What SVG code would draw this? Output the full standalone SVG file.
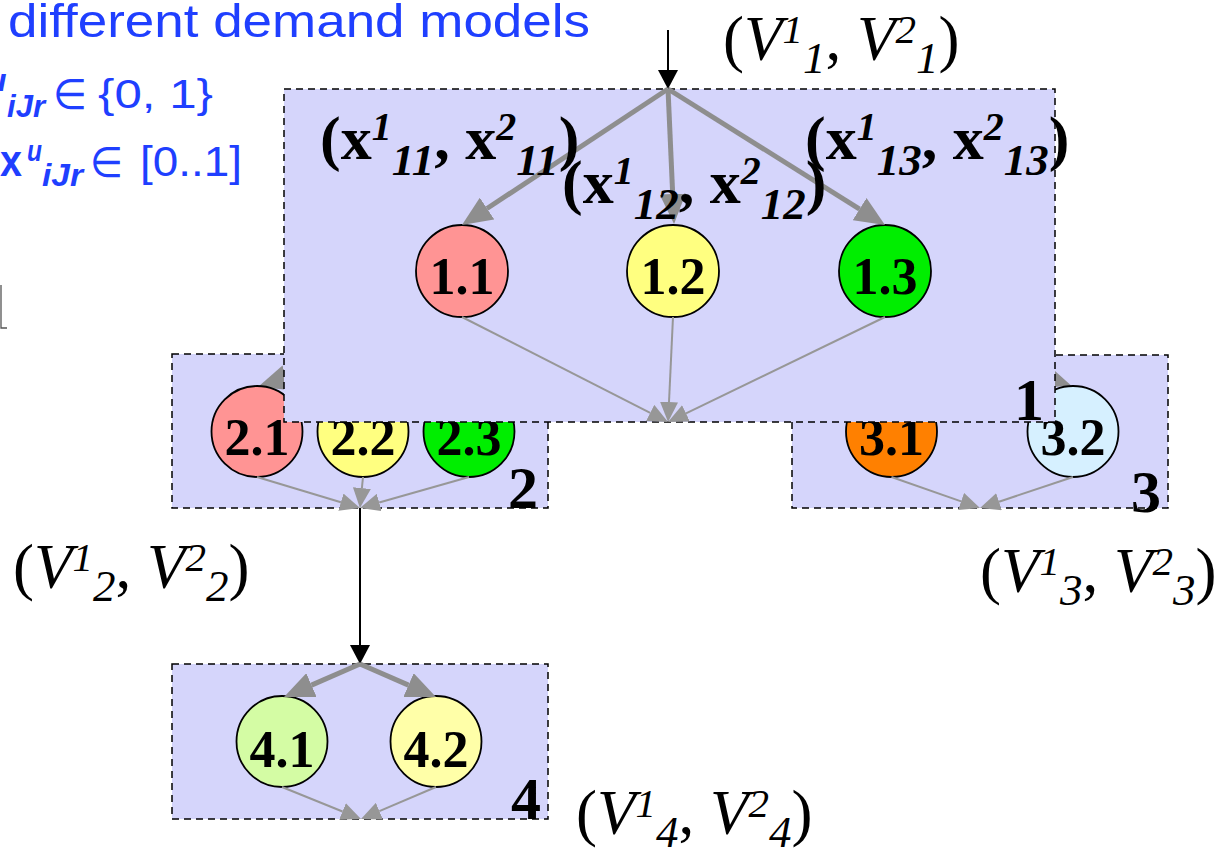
<svg xmlns="http://www.w3.org/2000/svg" width="1223" height="853" viewBox="0 0 1223 853">
<style>
.box{fill:#d5d5fb;stroke:#000;stroke-width:1.5;stroke-dasharray:7,5}
.nd{stroke:#000;stroke-width:1.8}
.thick{stroke:#8e8e8e;stroke-width:5;fill:none}
.thin{stroke:#979797;stroke-width:2;fill:none}
.blk{stroke:#000;stroke-width:2;fill:none}
.nl{font-family:"Liberation Serif","Times New Roman",serif;font-weight:bold;font-size:52px;text-anchor:middle;fill:#000}
.bl{font-family:"Liberation Serif","Times New Roman",serif;font-weight:bold;font-size:60px;fill:#000}
.xl{font-family:"Liberation Serif","Times New Roman",serif;font-weight:bold;font-size:62px;fill:#000}
.xl .s{font-style:italic;font-size:40px}
.xl .b{font-style:italic;font-size:45px}
.vl{font-family:"Liberation Serif","Times New Roman",serif;font-size:63px;fill:#000}
.vl .i{font-style:italic}
.vl .s{font-style:italic;font-size:41px}
.vl .b{font-style:italic;font-size:45px}
.blue{font-family:"Liberation Sans",Arial,sans-serif;fill:#1f3fff}
.sym{font-family:"DejaVu Sans",sans-serif;fill:#1f3fff}
</style>
<defs>
<marker id="mThick" markerUnits="userSpaceOnUse" markerWidth="32" markerHeight="26" refX="0" refY="13" orient="auto"><path d="M0,0 L30,13 L0,26 z" fill="#8e8e8e"/></marker>
<marker id="mThin" markerUnits="userSpaceOnUse" markerWidth="22" markerHeight="18" refX="0" refY="9" orient="auto"><path d="M0,0 L20,9 L0,18 z" fill="#979797"/></marker>
<marker id="mBlk" markerUnits="userSpaceOnUse" markerWidth="20" markerHeight="20" refX="0" refY="10" orient="auto"><path d="M0,0 L19,10 L0,20 z" fill="#000"/></marker>
</defs>
<rect width="1223" height="853" fill="#fff"/>

<g id="legend">
<text class="blue" x="8" y="37" font-size="47" textLength="582" lengthAdjust="spacingAndGlyphs">different demand models</text>
<text class="blue" x="-13" y="91" font-size="32" font-weight="bold" font-style="italic">u</text>
<text class="blue" x="7" y="117" font-size="32" font-weight="bold" font-style="italic" textLength="38" lengthAdjust="spacingAndGlyphs">iJr</text>
<text class="sym" x="53" y="109" font-size="42" textLength="34" lengthAdjust="spacingAndGlyphs">∈</text>
<text class="blue" x="98" y="108" font-size="40" textLength="115" lengthAdjust="spacingAndGlyphs">{0, 1}</text>
<text class="blue" x="0" y="176" font-size="44" font-weight="bold" textLength="22" lengthAdjust="spacingAndGlyphs">x</text>
<text class="blue" x="27" y="161" font-size="30" font-weight="bold" font-style="italic" textLength="15" lengthAdjust="spacingAndGlyphs">u</text>
<text class="blue" x="42" y="186" font-size="32" font-weight="bold" font-style="italic" textLength="41" lengthAdjust="spacingAndGlyphs">iJr</text>
<text class="sym" x="90" y="177" font-size="42" textLength="33" lengthAdjust="spacingAndGlyphs">∈</text>
<text class="blue" x="140" y="176" font-size="42" textLength="102" lengthAdjust="spacingAndGlyphs">[0..1]</text>
<polyline points="1,285 1,328 7,328" fill="none" stroke="#555" stroke-width="1.3"/>
</g>

<g id="box2">
<rect class="box" x="172" y="354" width="376" height="154"/>
<line class="thick" x1="360" y1="354" x2="286.5" y2="377.8" marker-end="url(#mThick)"/>
<circle class="nd" cx="257" cy="431.5" r="45.5" fill="#ff9494"/>
<circle class="nd" cx="363" cy="431.5" r="45.5" fill="#ffff80"/>
<circle class="nd" cx="469" cy="431.5" r="45.5" fill="#00ee00"/>
<text class="nl" x="257" y="455">2.1</text>
<text class="nl" x="363" y="455">2.2</text>
<text class="nl" x="469" y="455">2.3</text>
<text class="bl" x="508" y="508">2</text>
</g>

<g id="box3">
<rect class="box" x="792" y="355" width="376" height="153"/>
<line class="thick" x1="980" y1="355" x2="1042.7" y2="376" marker-end="url(#mThick)"/>
<circle class="nd" cx="891.5" cy="431.5" r="45.5" fill="#ff8000"/>
<circle class="nd" cx="1073" cy="431.5" r="45.5" fill="#d6f0ff"/>
<text class="nl" x="891.5" y="455">3.1</text>
<text class="nl" x="1073" y="455">3.2</text>
<text class="bl" x="1131" y="512">3</text>
</g>

<g id="box1">
<rect class="box" x="284" y="89" width="771" height="333"/>
<circle class="nd" cx="462" cy="271" r="46" fill="#ff9494"/>
<circle class="nd" cx="673" cy="271" r="46" fill="#ffff80"/>
<circle class="nd" cx="885" cy="271" r="46" fill="#00ee00"/>
<text class="nl" x="462" y="294">1.1</text>
<text class="nl" x="673" y="294">1.2</text>
<text class="nl" x="885" y="294">1.3</text>
<text class="bl" x="1014" y="420">1</text>
</g>

<g id="box4">
<rect class="box" x="172" y="664" width="376" height="155"/>
<circle class="nd" cx="282" cy="741.5" r="45.5" fill="#d4fca4"/>
<circle class="nd" cx="436" cy="741.5" r="45.5" fill="#ffffa8"/>
<text class="nl" x="282" y="767">4.1</text>
<text class="nl" x="436" y="767">4.2</text>
<text class="bl" x="511" y="819">4</text>
</g>

<g id="connectors">
<line class="blk" x1="668" y1="30" x2="668" y2="70" marker-end="url(#mBlk)"/>
<line class="thick" x1="668" y1="89" x2="487" y2="208.5" marker-end="url(#mThick)"/>
<line class="thick" x1="668" y1="89" x2="672.7" y2="194" marker-end="url(#mThick)"/>
<line class="thick" x1="668" y1="89" x2="859.6" y2="209.1" marker-end="url(#mThick)"/>
<line class="thin" x1="462" y1="317" x2="650.2" y2="412.9" marker-end="url(#mThin)"/>
<line class="thin" x1="673" y1="317" x2="669" y2="402" marker-end="url(#mThin)"/>
<line class="thin" x1="885" y1="317" x2="686" y2="413.3" marker-end="url(#mThin)"/>
<line class="thin" x1="257" y1="477" x2="340.9" y2="502.2" marker-end="url(#mThin)"/>
<line class="thin" x1="363" y1="477" x2="361.9" y2="488.1" marker-end="url(#mThin)"/>
<line class="thin" x1="469" y1="477" x2="379.2" y2="502.5" marker-end="url(#mThin)"/>
<line class="thin" x1="891.5" y1="477" x2="961.1" y2="501.4" marker-end="url(#mThin)"/>
<line class="thin" x1="1073" y1="477" x2="999" y2="501.7" marker-end="url(#mThin)"/>
<line class="blk" x1="360" y1="508" x2="360" y2="645" marker-end="url(#mBlk)"/>
<line class="thick" x1="360" y1="664" x2="311.5" y2="685.1" marker-end="url(#mThick)"/>
<line class="thick" x1="360" y1="664" x2="408.5" y2="685.1" marker-end="url(#mThick)"/>
<line class="thin" x1="282" y1="787" x2="342.5" y2="811.5" marker-end="url(#mThin)"/>
<line class="thin" x1="436" y1="787" x2="379.4" y2="811.1" marker-end="url(#mThin)"/>
</g>

<g id="labels">
<text class="xl" x="320" y="159">(x<tspan class="s" dy="-19">1</tspan><tspan class="b" dy="35">11</tspan><tspan dy="-16">, x</tspan><tspan class="s" dy="-19">2</tspan><tspan class="b" dy="35">11</tspan><tspan dy="-16">)</tspan></text>
<text class="xl" x="562" y="203">(x<tspan class="s" dy="-19">1</tspan><tspan class="b" dy="35">12</tspan><tspan dy="-16">, x</tspan><tspan class="s" dy="-19">2</tspan><tspan class="b" dy="35">12</tspan><tspan dy="-16">)</tspan></text>
<text class="xl" x="805" y="159">(x<tspan class="s" dy="-19">1</tspan><tspan class="b" dy="35">13</tspan><tspan dy="-16">, x</tspan><tspan class="s" dy="-19">2</tspan><tspan class="b" dy="35">13</tspan><tspan dy="-16">)</tspan></text>
<text class="vl" x="723" y="60">(<tspan class="i">V</tspan><tspan class="s" dy="-17">1</tspan><tspan class="b" dy="30">1</tspan><tspan dy="-13">, </tspan><tspan class="i">V</tspan><tspan class="s" dy="-17">2</tspan><tspan class="b" dy="30">1</tspan><tspan dy="-13">)</tspan></text>
<text class="vl" x="13" y="588">(<tspan class="i">V</tspan><tspan class="s" dy="-17">1</tspan><tspan class="b" dy="30">2</tspan><tspan dy="-13">, </tspan><tspan class="i">V</tspan><tspan class="s" dy="-17">2</tspan><tspan class="b" dy="30">2</tspan><tspan dy="-13">)</tspan></text>
<text class="vl" x="980" y="592">(<tspan class="i">V</tspan><tspan class="s" dy="-17">1</tspan><tspan class="b" dy="30">3</tspan><tspan dy="-13">, </tspan><tspan class="i">V</tspan><tspan class="s" dy="-17">2</tspan><tspan class="b" dy="30">3</tspan><tspan dy="-13">)</tspan></text>
<text class="vl" x="576" y="834">(<tspan class="i">V</tspan><tspan class="s" dy="-17">1</tspan><tspan class="b" dy="30">4</tspan><tspan dy="-13">, </tspan><tspan class="i">V</tspan><tspan class="s" dy="-17">2</tspan><tspan class="b" dy="30">4</tspan><tspan dy="-13">)</tspan></text>
</g>
</svg>
